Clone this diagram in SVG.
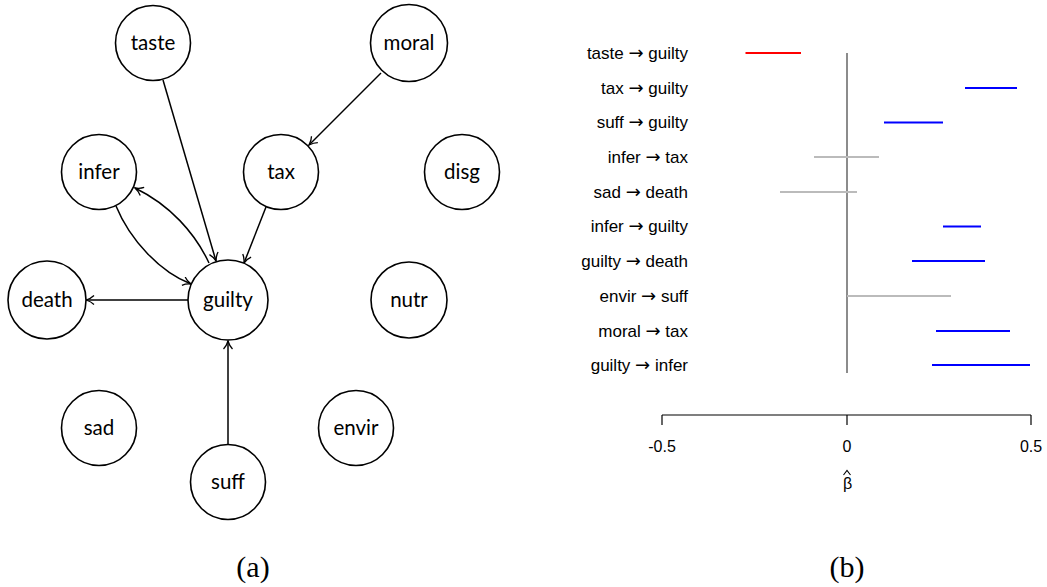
<svg xmlns="http://www.w3.org/2000/svg" width="1047" height="587" viewBox="0 0 1047 587">
<style>
.node circle{fill:#fff;stroke:#000;stroke-width:1.6}
.node text{font-family:Lato,"Open Sans",sans-serif;font-size:20.5px;text-anchor:middle;fill:#000}
.edge{fill:none;stroke:#000;stroke-width:1.5;marker-end:url(#arr)}
.lab{font-family:"Liberation Sans",Arial,sans-serif;font-size:17px;text-anchor:end;fill:#000}
.lab tspan{font-family:"DejaVu Sans",sans-serif;font-size:18px}
.tick{font-family:"Liberation Sans",Arial,sans-serif;font-size:16px;text-anchor:middle;fill:#000}
.cap{font-family:"Liberation Serif","Times New Roman",serif;font-size:30px;text-anchor:middle;fill:#000}
.bar{stroke-width:2.2;fill:none}
</style>
<defs>
<marker id="arr" markerWidth="12" markerHeight="12" refX="9" refY="5" orient="auto" markerUnits="userSpaceOnUse">
<path d="M1,0.5 Q4,3.5 9,5 Q4,6.5 1,9.5" fill="none" stroke="#000" stroke-width="1.3"/>
</marker>
</defs>
<g id="connectors">
<path class="edge" d="M163,80 L216,261"/>
<path class="edge" d="M381,73 L309,145"/>
<path class="edge" d="M266,207 L244,263"/>
<path class="edge" d="M116,206 C130,240 160,272 191,284"/>
<path class="edge" d="M209,263 C195,233 170,205 135,188"/>
<path class="edge" d="M188,300 L86,300"/>
<path class="edge" d="M228,444 L228,341"/>
</g>
<g id="node-taste" class="node"><circle cx="153" cy="43" r="37.5"/><text x="153" y="50">taste</text></g>
<g id="node-moral" class="node"><circle cx="409" cy="43" r="38.5"/><text x="409" y="50">moral</text></g>
<g id="node-infer" class="node"><circle cx="99" cy="172" r="37.5"/><text x="99" y="179">infer</text></g>
<g id="node-tax" class="node"><circle cx="281" cy="172" r="37.5"/><text x="281" y="179">tax</text></g>
<g id="node-disg" class="node"><circle cx="462" cy="172" r="37.5"/><text x="462" y="179">disg</text></g>
<g id="node-death" class="node"><circle cx="47" cy="300" r="39"/><text x="47" y="307">death</text></g>
<g id="node-guilty" class="node"><circle cx="228" cy="300" r="40"/><text x="228" y="307">guilty</text></g>
<g id="node-nutr" class="node"><circle cx="409" cy="300" r="38"/><text x="409" y="307">nutr</text></g>
<g id="node-sad" class="node"><circle cx="99" cy="428" r="37.5"/><text x="99" y="435">sad</text></g>
<g id="node-envir" class="node"><circle cx="356" cy="428" r="37.5"/><text x="356" y="435">envir</text></g>
<g id="node-suff" class="node"><circle cx="228" cy="482" r="37.5"/><text x="228" y="489">suff</text></g>
<text class="cap" x="253" y="577">(a)</text>

<g id="plot-b">
<line x1="847" y1="53" x2="847" y2="373" stroke="#666" stroke-width="1.5"/>
<g class="labels">
<text class="lab" x="688" y="58.5">taste <tspan>→</tspan> guilty</text>
<text class="lab" x="688" y="93.5">tax <tspan>→</tspan> guilty</text>
<text class="lab" x="688" y="128">suff <tspan>→</tspan> guilty</text>
<text class="lab" x="688" y="163">infer <tspan>→</tspan> tax</text>
<text class="lab" x="688" y="198">sad <tspan>→</tspan> death</text>
<text class="lab" x="688" y="232">infer <tspan>→</tspan> guilty</text>
<text class="lab" x="688" y="267">guilty <tspan>→</tspan> death</text>
<text class="lab" x="688" y="302">envir <tspan>→</tspan> suff</text>
<text class="lab" x="688" y="337">moral <tspan>→</tspan> tax</text>
<text class="lab" x="688" y="371">guilty <tspan>→</tspan> infer</text>
</g>
<line class="bar" stroke="#ff0000" x1="745.5" y1="53" x2="801" y2="53"/>
<line class="bar" stroke="#0000ff" x1="965" y1="88" x2="1017" y2="88"/>
<line class="bar" stroke="#0000ff" x1="884" y1="122.5" x2="943" y2="122.5"/>
<line class="bar" stroke="#bbbbbb" x1="814" y1="157" x2="879" y2="157"/>
<line class="bar" stroke="#bbbbbb" x1="780" y1="192" x2="857" y2="192"/>
<line class="bar" stroke="#0000ff" x1="943" y1="226.5" x2="981" y2="226.5"/>
<line class="bar" stroke="#0000ff" x1="912" y1="261" x2="985" y2="261"/>
<line class="bar" stroke="#bbbbbb" x1="847" y1="296" x2="951" y2="296"/>
<line class="bar" stroke="#0000ff" x1="936" y1="331" x2="1010" y2="331"/>
<line class="bar" stroke="#0000ff" x1="932" y1="365" x2="1030" y2="365"/>
<g id="axis" stroke="#000" stroke-width="1.2">
<line x1="662" y1="415" x2="1031" y2="415"/>
<line x1="662" y1="415" x2="662" y2="425"/>
<line x1="847" y1="415" x2="847" y2="425"/>
<line x1="1031" y1="415" x2="1031" y2="425"/>
</g>
<text class="tick" x="662" y="452">-0.5</text>
<text class="tick" x="847" y="452">0</text>
<text class="tick" x="1031" y="452">0.5</text>
<text class="tick" x="847.5" y="489">β</text>
<polyline points="843.5,475 847,470.5 850.5,475" fill="none" stroke="#000" stroke-width="1.1"/>
</g>
<text class="cap" x="847" y="577">(b)</text>
</svg>
